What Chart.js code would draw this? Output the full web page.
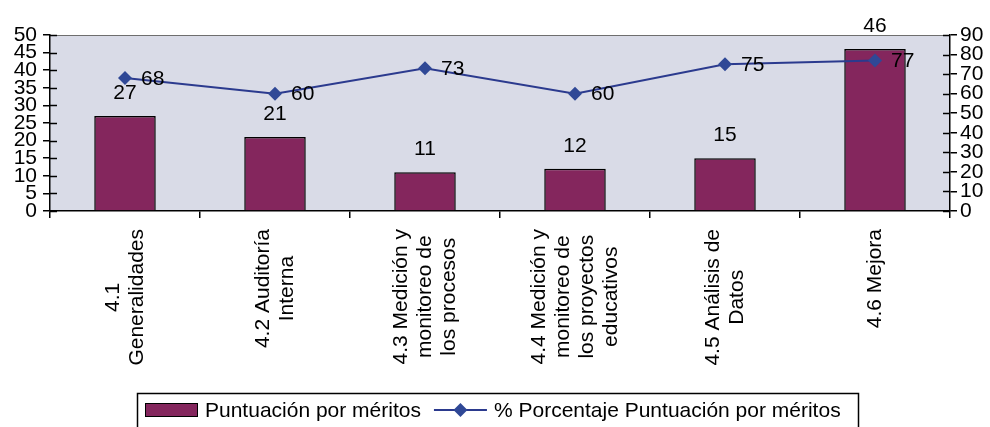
<!DOCTYPE html>
<html><head><meta charset="utf-8">
<script src="https://cdn.jsdelivr.net/npm/chart.js@4/dist/chart.umd.min.js"></script>
<style>html,body{margin:0;padding:0;background:#fff;overflow:hidden}#wrap{width:990px;height:427px;position:relative}</style>
</head><body><div id="wrap"><canvas id="c" width="990" height="427"></canvas></div>
<script>
const categories = [
  ["4.1", "Generalidades"],
  ["4.2 Auditoría", "Interna"],
  ["4.3 Medición y", "monitoreo de", "los procesos"],
  ["4.4 Medición y", "monitoreo de", "los proyectos", "educativos"],
  ["4.5 Análisis de", "Datos"],
  ["4.6 Mejora"]
];
const puntuacion = [27, 21, 11, 12, 15, 46];
const porcentaje = [68, 60, 73, 60, 75, 77];
const leftTicks = [0, 5, 10, 15, 20, 25, 30, 35, 40, 45, 50];
const rightTicks = [0, 10, 20, 30, 40, 50, 60, 70, 80, 90];
const seriesNames = ["Puntuación por méritos", "% Porcentaje Puntuación por méritos"];

const FONT = "'Liberation Sans', Arial, Helvetica, sans-serif";
const BAR_COLOR = '#84265d';
const LINE_COLOR = '#2b3a8e';
const POINT_COLOR = '#2f4896';
const PLOT_BG = '#d9dbe7';

const custom = {
  id: 'custom',
  beforeDraw(chart) {
    const {ctx, chartArea: a} = chart;
    ctx.save();
    ctx.fillStyle = PLOT_BG;
    ctx.fillRect(a.left, a.top, a.right - a.left, a.bottom - a.top);
    ctx.strokeStyle = '#6e6e6e';
    ctx.lineWidth = 1.2;
    ctx.beginPath();
    ctx.moveTo(a.left, a.top + 0.5);
    ctx.lineTo(a.right, a.top + 0.5);
    ctx.stroke();
    ctx.restore();
  },
  afterDatasetsDraw(chart) {
    const {ctx, chartArea: a, scales} = chart;
    ctx.save();
    // inner tick halves on both value axes
    ctx.strokeStyle = '#000';
    ctx.lineWidth = 1.5;
    scales.y.ticks.forEach(t => {
      const y = Math.round(scales.y.getPixelForValue(t.value)) + 0.5;
      ctx.beginPath(); ctx.moveTo(a.left, y); ctx.lineTo(a.left + 7, y); ctx.stroke();
    });
    scales.y1.ticks.forEach(t => {
      const y = Math.round(scales.y1.getPixelForValue(t.value)) + 0.5;
      ctx.beginPath(); ctx.moveTo(a.right - 7, y); ctx.lineTo(a.right, y); ctx.stroke();
    });

    ctx.fillStyle = '#000';
    ctx.font = '21px ' + FONT;
    ctx.textBaseline = 'middle';
    // bar value labels
    const barMeta = chart.getDatasetMeta(0);
    barMeta.data.forEach((el, i) => {
      ctx.textAlign = 'center';
      ctx.fillText(String(chart.data.datasets[0].data[i]), el.x, el.y - 23);
    });
    // line value labels
    const lineMeta = chart.getDatasetMeta(1);
    lineMeta.data.forEach((el, i) => {
      ctx.textAlign = 'left';
      ctx.fillText(String(chart.data.datasets[1].data[i]), el.x + 16, el.y + 1);
    });

    // category labels, rotated, lines centred on each other
    const xs = scales.x;
    const lh = 24;
    chart.data.labels.forEach((lab, i) => {
      const lines = Array.isArray(lab) ? lab : [lab];
      const x = xs.getPixelForValue(i);
      const maxW = Math.max(...lines.map(l => ctx.measureText(l).width));
      const yc = a.bottom + 18 + maxW / 2;
      lines.forEach((l, j) => {
        ctx.save();
        ctx.translate(x + (j - (lines.length - 1) / 2) * lh, yc);
        ctx.rotate(-Math.PI / 2);
        ctx.textAlign = 'center';
        ctx.textBaseline = 'middle';
        ctx.fillText(l, 0, 0);
        ctx.restore();
      });
    });

    // legend
    const ly = 410;
    let x = 145;
    ctx.lineWidth = 1.5;
    ctx.strokeStyle = '#000';
    ctx.strokeRect(137.5, 393.5, 721, 45);
    ctx.fillStyle = BAR_COLOR;
    ctx.fillRect(x, ly - 7, 53, 14);
    ctx.lineWidth = 1;
    ctx.strokeRect(x + 0.5, ly - 6.5, 52, 13);
    x += 60;
    ctx.fillStyle = '#000';
    ctx.textAlign = 'left';
    ctx.textBaseline = 'middle';
    ctx.fillText(chart.data.datasets[0].label, x, ly + 1);
    x += ctx.measureText(chart.data.datasets[0].label).width + 13;
    ctx.strokeStyle = LINE_COLOR;
    ctx.lineWidth = 2;
    ctx.beginPath(); ctx.moveTo(x, ly); ctx.lineTo(x + 53, ly); ctx.stroke();
    const cx = x + 26.5;
    ctx.fillStyle = POINT_COLOR;
    ctx.beginPath();
    ctx.moveTo(cx, ly - 7); ctx.lineTo(cx + 7, ly); ctx.lineTo(cx, ly + 7); ctx.lineTo(cx - 7, ly); ctx.closePath();
    ctx.fill();
    x += 60;
    ctx.fillStyle = '#000';
    ctx.fillText(chart.data.datasets[1].label, x, ly + 1);
    ctx.restore();
  }
};

new Chart(document.getElementById('c'), {
  data: {
    labels: categories,
    datasets: [
      {
        type: 'bar',
        label: seriesNames[0],
        data: puntuacion,
        yAxisID: 'y',
        backgroundColor: BAR_COLOR,
        borderColor: '#000',
        borderWidth: 1.5,
        barPercentage: 0.41,
        categoryPercentage: 1.0,
        order: 1
      },
      {
        type: 'line',
        label: seriesNames[1],
        data: porcentaje,
        yAxisID: 'y1',
        borderColor: LINE_COLOR,
        borderWidth: 2,
        backgroundColor: POINT_COLOR,
        pointStyle: 'rectRot',
        pointRadius: 7,
        pointBorderWidth: 0,
        pointBackgroundColor: POINT_COLOR,
        tension: 0,
        order: 0
      }
    ]
  },
  options: {
    responsive: false,
    devicePixelRatio: 1,
    animation: false,
    layout: { padding: { top: 35, left: 0, right: 0, bottom: 0 } },
    plugins: { legend: { display: false }, tooltip: { enabled: false } },
    scales: {
      x: {
        type: 'category',
        offset: true,
        grid: { display: true, offset: true, drawOnChartArea: false, drawTicks: true, tickLength: 7, color: '#000', lineWidth: 1.5 },
        border: { display: true, color: '#000', width: 1.5 },
        ticks: { display: false },
        afterFit(s) { s.height = 216; }
      },
      y: {
        position: 'left',
        min: 0, max: 50,
        afterBuildTicks(s) { s.ticks = leftTicks.map(v => ({ value: v })); },
        grid: { display: true, drawOnChartArea: false, drawTicks: true, tickLength: 7, color: '#000', lineWidth: 1.5 },
        border: { display: true, color: '#000', width: 1.5 },
        ticks: { autoSkip: false, padding: 6, color: '#000', font: { family: FONT, size: 21 } },
        afterFit(s) { s.width = 50; }
      },
      y1: {
        position: 'right',
        min: 0, max: 90,
        afterBuildTicks(s) { s.ticks = rightTicks.map(v => ({ value: v })); },
        grid: { display: true, drawOnChartArea: false, drawTicks: true, tickLength: 7, color: '#000', lineWidth: 1.5 },
        border: { display: true, color: '#000', width: 1.5 },
        ticks: { autoSkip: false, padding: 3, color: '#000', font: { family: FONT, size: 21 } },
        afterFit(s) { s.width = 40; }
      }
    }
  },
  plugins: [custom]
});
</script>
</body></html>
